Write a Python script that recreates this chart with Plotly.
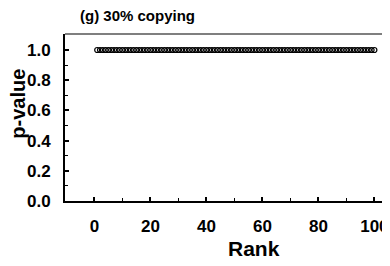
import plotly.graph_objects as go

rank = list(range(1, 101))
p_value = [1.0] * 100
x_ticks = [0, 20, 40, 60, 80, 100]
y_ticks = [0.0, 0.2, 0.4, 0.6, 0.8, 1.0]
title = "(g) 30% copying"

font = "Liberation Sans, Arial, sans-serif"

fig = go.Figure()
fig.add_trace(go.Scatter(
    x=rank, y=p_value, mode="markers",
    marker=dict(symbol="circle-open", size=5, color="black", line=dict(width=1.2)),
    showlegend=False,
))

# page body has an 8px margin; figure is sized so the plot area lands at 65..387 x 34..201
fig.update_layout(
    width=382, height=258,
    margin=dict(l=57, r=3, t=26, b=65),
    paper_bgcolor="white", plot_bgcolor="white",
    font=dict(family=font, color="black"),
    shapes=[
        dict(type="line", xref="paper", yref="paper", x0=0, x1=1, y0=1, y1=1,
             line=dict(color="black", width=1.2)),
        dict(type="line", xref="paper", yref="paper", x0=1, x1=1, y0=0, y1=1,
             line=dict(color="black", width=1.2)),
    ],
)
fig.add_annotation(text="<b>" + title + "</b>", x=0.224, y=1.11, xref="paper", yref="paper",
                   xanchor="center", yanchor="middle", showarrow=False,
                   font=dict(size=15, family=font))
fig.add_annotation(text="<b>Rank</b>", x=0.587, y=-0.212, xref="paper", yref="paper",
                   xanchor="center", yanchor="top", showarrow=False, borderpad=0,
                   font=dict(size=21, family=font))
fig.add_annotation(text="<b>p-value</b>", x=-0.147, y=0.581, xref="paper", yref="paper",
                   xanchor="center", yanchor="middle", showarrow=False, textangle=-90,
                   font=dict(size=20, family=font))

fig.update_xaxes(
    range=[-10.5, 104.5], tickmode="array", tickvals=x_ticks,
    ticktext=["<b>%d</b>" % v for v in x_ticks],
    ticks="inside", ticklen=4, tickwidth=1.5, tickcolor="black",
    minor=dict(tickvals=[10, 30, 50, 70, 90], ticks="inside", ticklen=3, tickcolor="black", tickwidth=1),
    showline=True, linecolor="black", linewidth=2, showgrid=False, zeroline=False,
    tickfont=dict(size=17), ticklabelstandoff=9, automargin=False,
)
fig.update_yaxes(
    range=[0, 1.106], tickmode="array", tickvals=y_ticks,
    ticktext=["<b>%.1f</b>" % v for v in y_ticks],
    ticks="inside", ticklen=4, tickwidth=1.5, tickcolor="black",
    minor=dict(tickvals=[0.1, 0.3, 0.5, 0.7, 0.9], ticks="inside", ticklen=3, tickcolor="black", tickwidth=1),
    showline=True, linecolor="black", linewidth=2, showgrid=False, zeroline=False,
    tickfont=dict(size=17), ticklabelstandoff=9, automargin=False,
)

fig.write_html("out.html")
